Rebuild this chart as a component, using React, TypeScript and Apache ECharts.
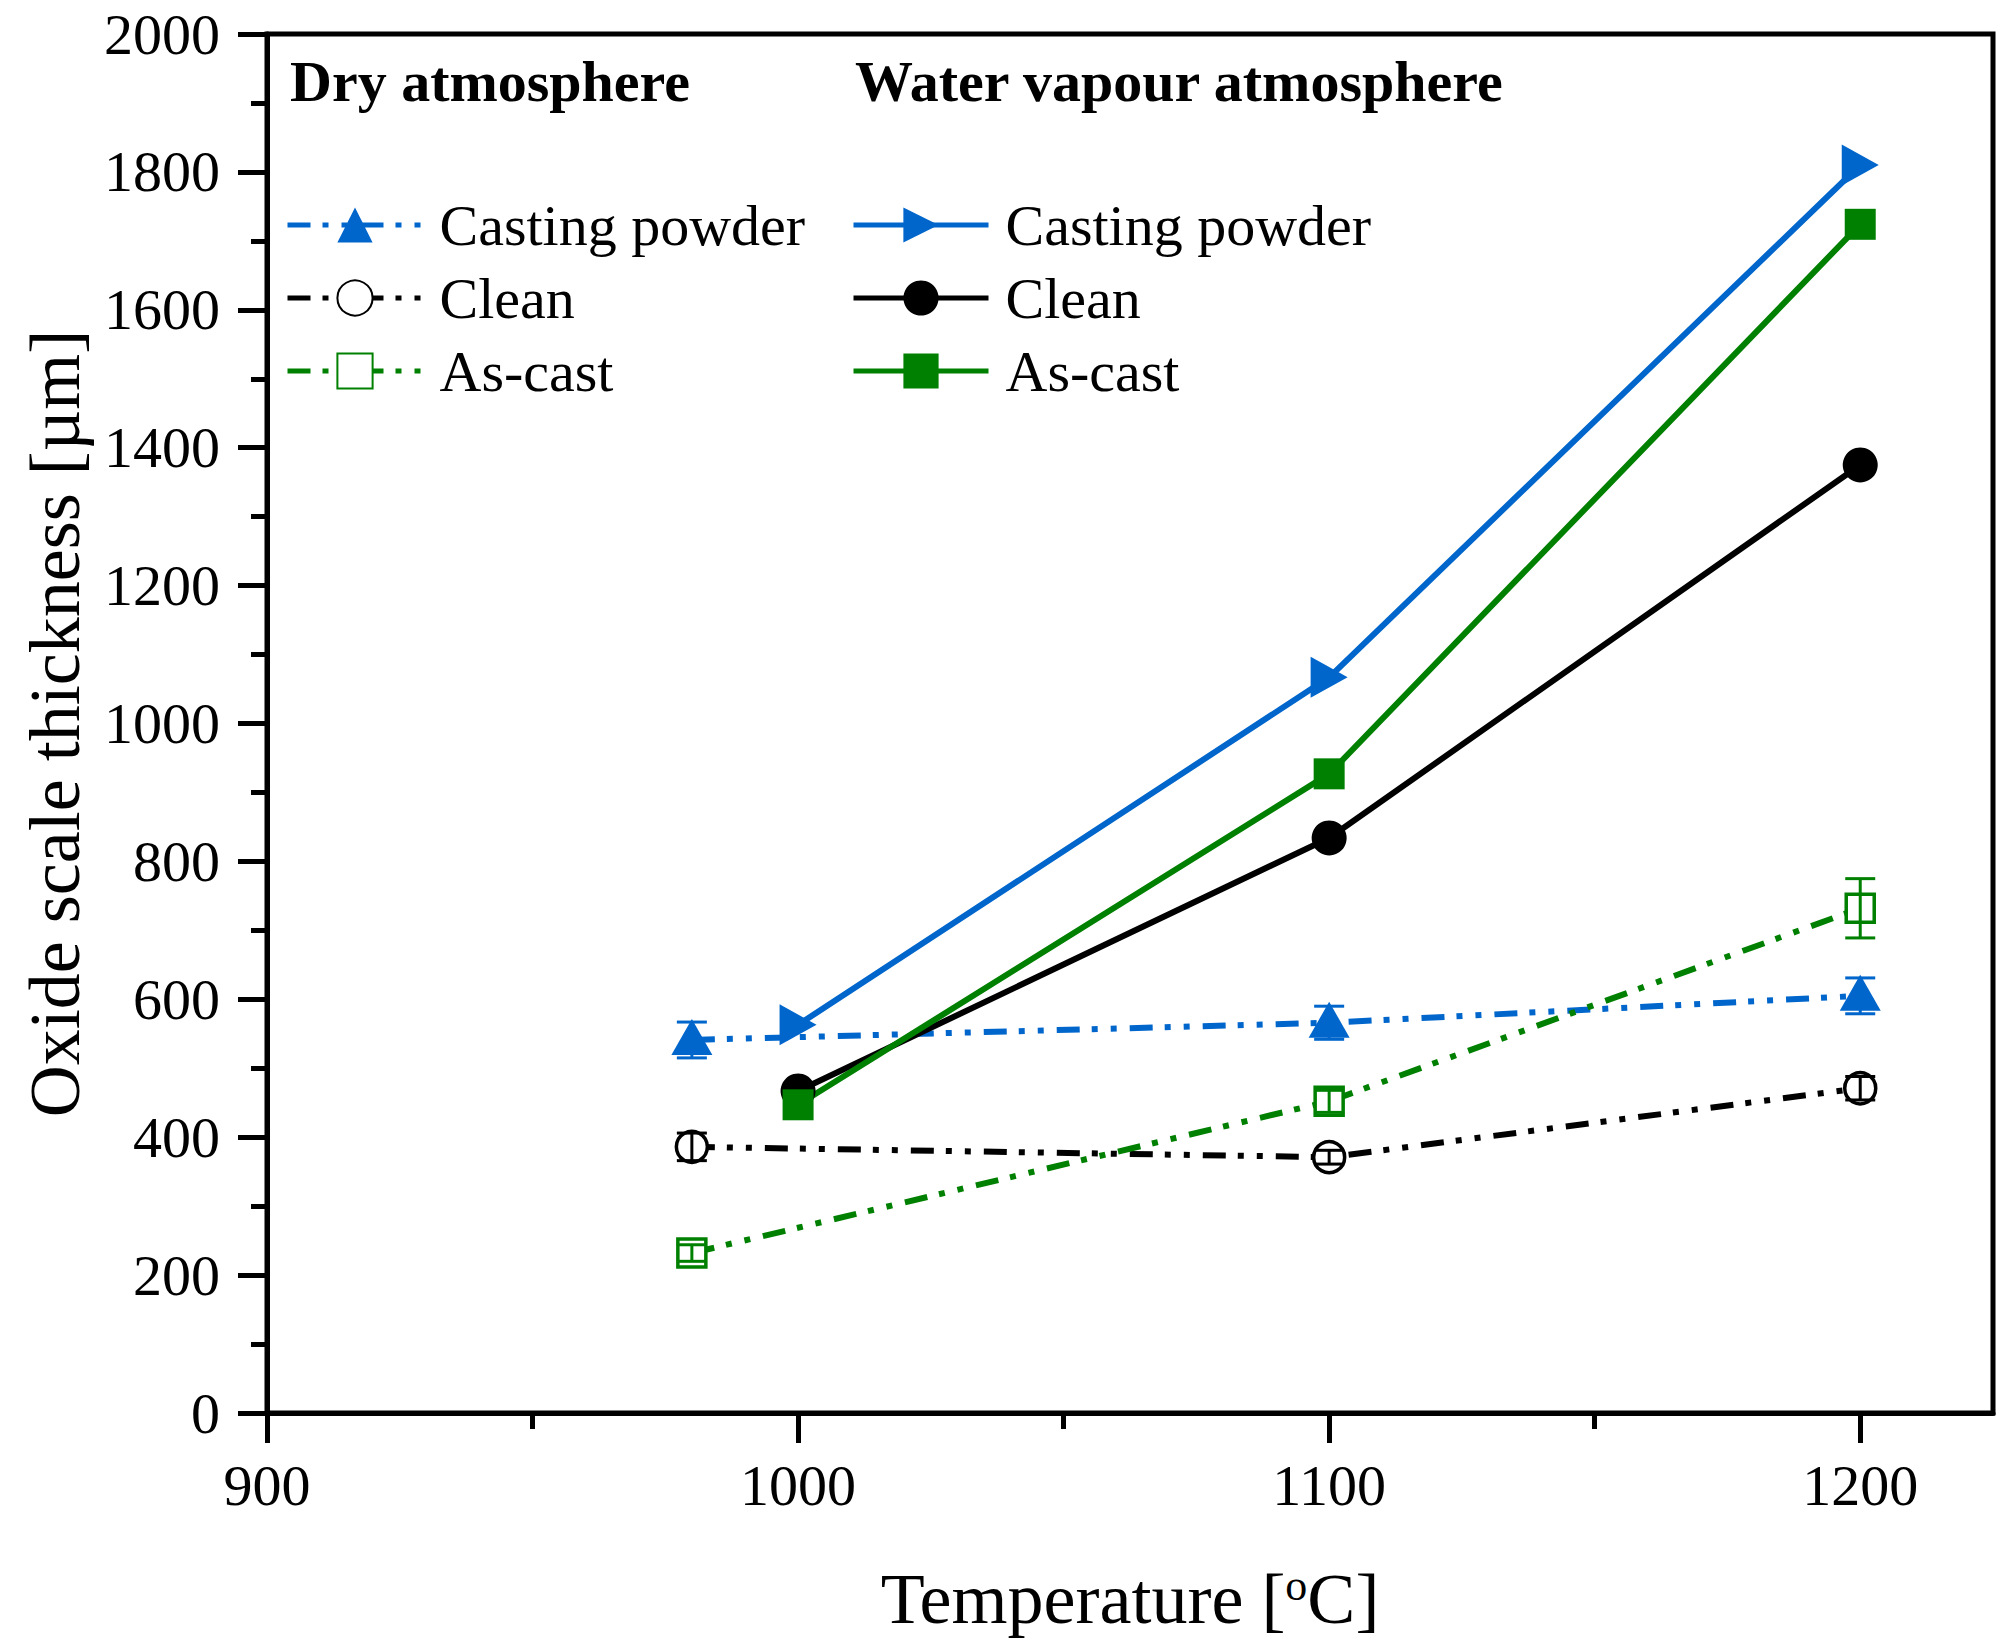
import React, { useEffect, useRef } from "react";
import * as echarts from "echarts";

const FONT = "'Liberation Serif', 'Times New Roman', serif";
const BLUE = "#0066CC";
const GREEN = "#008000";
const BLACK = "#000000";

// temperatures
const dryX = [980, 1100, 1200];
const waterX = [1000, 1100, 1200];
const xTicks = [900, 1000, 1100, 1200];
const xMinorTicks = [950, 1050, 1150];

// dry atmosphere (µm)
const dryCasting = [541, 566, 605];
const dryCastingErr = [26, 24, 26];
const dryClean = [386, 371, 471];
const dryCleanErr = [20, 10, 17];
const dryAsCast = [232, 452, 732];
const dryAsCastErr = [12, 16, 43];

// water vapour atmosphere (µm)
const waterCasting = [563, 1067, 1810];
const waterClean = [467, 834, 1375];
const waterAsCast = [447, 927, 1724];

const DASH = [23, 12, 6, 13, 6, 13];
const LW = 6;

const pts = (xs: number[], ys: number[]) => xs.map((x, i) => [x, ys[i]]);
const errPts = (xs: number[], ys: number[], es: number[]) => xs.map((x, i) => [x, ys[i], es[i]]);

function errSeries(name: string, data: number[][], color: string, z: number) {
  return {
    name,
    type: "custom",
    z,
    encode: { x: 0, y: 1 },
    data,
    renderItem: (params: any, api: any) => {
      const x = api.value(0);
      const y = api.value(1);
      const e = api.value(2);
      const hi = api.coord([x, y + e]);
      const lo = api.coord([x, y - e]);
      const hw = 15;
      const st = { stroke: color, lineWidth: 3 };
      return {
        type: "group",
        children: [
          { type: "line", shape: { x1: hi[0], y1: hi[1], x2: lo[0], y2: lo[1] }, style: st },
          { type: "line", shape: { x1: hi[0] - hw, y1: hi[1], x2: hi[0] + hw, y2: hi[1] }, style: st },
          { type: "line", shape: { x1: lo[0] - hw, y1: lo[1], x2: lo[0] + hw, y2: lo[1] }, style: st },
        ],
      };
    },
  };
}

export default function App() {
  const ref = useRef<HTMLDivElement>(null);
  useEffect(() => {
    if (!ref.current) return;
    const chart = echarts.init(ref.current, null, { renderer: "svg" });
    const legendBase = {
      orient: "vertical",
      top: 196,
      itemWidth: 135,
      itemHeight: 44,
      itemGap: 15,
      padding: 0,
      selectedMode: false,
      formatter: (n: string) => n.split(": ")[1],
      lineStyle: { width: 5 },
      textStyle: { fontSize: 58, fontFamily: FONT, color: BLACK, padding: [0, 0, 0, 12] },
    };
    chart.setOption({
      animation: false,
      backgroundColor: "#ffffff",
      grid: {
        left: 267,
        right: 18,
        top: 34,
        bottom: 234,
        show: true,
        borderColor: BLACK,
        borderWidth: 5,
        backgroundColor: "transparent",
      },
      graphic: [
        {
          type: "text",
          left: 290,
          top: 52,
          style: { text: "Dry atmosphere", fontSize: 58, fontWeight: "bold", fontFamily: FONT, fill: BLACK },
        },
        {
          type: "text",
          left: 855,
          top: 52,
          style: { text: "Water vapour atmosphere", fontSize: 58, fontWeight: "bold", fontFamily: FONT, fill: BLACK },
        },
      ],
      legend: [
        { ...legendBase, left: 285, data: ["Dry: Casting powder", "Dry: Clean", "Dry: As-cast"] },
        { ...legendBase, left: 851, data: ["Water: Casting powder", "Water: Clean", "Water: As-cast"] },
      ],
      xAxis: [
        {
          type: "value",
          min: 900,
          max: 1225,
          interval: 100,
          position: "bottom",
          name: "Temperature [{s|o}C]",
          nameLocation: "middle",
          nameGap: 150,
          nameTextStyle: {
            fontSize: 72,
            fontFamily: FONT,
            color: BLACK,
            rich: { s: { fontSize: 44, fontFamily: FONT, color: BLACK, verticalAlign: "top", padding: [0, 0, 24, 0] } },
          },
          axisLine: { show: true, onZero: false, lineStyle: { color: BLACK, width: 5 } },
          axisTick: { show: true, length: 30, customValues: xTicks, lineStyle: { color: BLACK, width: 5 } },
          axisLabel: {
            fontSize: 58,
            fontFamily: FONT,
            color: BLACK,
            margin: 43,
            customValues: xTicks,
            formatter: (v: number) => String(v),
          },
          splitLine: { show: false },
        },
        {
          type: "value",
          min: 900,
          max: 1225,
          interval: 50,
          position: "bottom",
          axisLine: { show: false, onZero: false },
          axisTick: { show: true, length: 16, customValues: xMinorTicks, lineStyle: { color: BLACK, width: 5 } },
          axisLabel: { show: false },
          splitLine: { show: false },
        },
      ],
      yAxis: {
        type: "value",
        min: 0,
        max: 2000,
        interval: 200,
        name: "Oxide scale thickness [µm]",
        nameLocation: "middle",
        nameGap: 176,
        nameTextStyle: { fontSize: 72, fontFamily: FONT, color: BLACK },
        axisLine: { show: true, onZero: false, lineStyle: { color: BLACK, width: 5 } },
        axisTick: { show: true, length: 29, lineStyle: { color: BLACK, width: 5 } },
        minorTick: { show: true, splitNumber: 2, length: 16, lineStyle: { color: BLACK, width: 5 } },
        axisLabel: {
          fontSize: 58,
          fontFamily: FONT,
          color: BLACK,
          margin: 47,
          formatter: (v: number) => String(v),
        },
        splitLine: { show: false },
        minorSplitLine: { show: false },
      },
      series: [
        {
          name: "Water: Casting powder",
          type: "line",
          data: pts(waterX, waterCasting),
          symbol: "triangle",
          symbolRotate: -90,
          symbolSize: [41, 37],
          lineStyle: { color: BLUE, width: LW },
          itemStyle: { color: BLUE },
          z: 3,
        },
        {
          name: "Water: Clean",
          type: "line",
          data: pts(waterX, waterClean),
          symbol: "circle",
          symbolSize: 35,
          lineStyle: { color: BLACK, width: LW },
          itemStyle: { color: BLACK },
          z: 3,
        },
        {
          name: "Water: As-cast",
          type: "line",
          data: pts(waterX, waterAsCast),
          symbol: "rect",
          symbolSize: 31,
          lineStyle: { color: GREEN, width: LW },
          itemStyle: { color: GREEN },
          z: 3,
        },
        {
          name: "Dry: Casting powder",
          type: "line",
          data: pts(dryX, dryCasting),
          symbol: "triangle",
          symbolSize: [41, 36],
          symbolOffset: [0, -3],
          lineStyle: { color: BLUE, width: LW, type: DASH },
          itemStyle: { color: BLUE },
          z: 2,
        },
        {
          name: "Dry: Clean",
          type: "line",
          data: pts(dryX, dryClean),
          symbol: "circle",
          symbolSize: 31,
          lineStyle: { color: BLACK, width: LW, type: DASH },
          itemStyle: { color: "#ffffff", borderColor: BLACK, borderWidth: 3.5 },
          z: 2,
        },
        {
          name: "Dry: As-cast",
          type: "line",
          data: pts(dryX, dryAsCast),
          symbol: "rect",
          symbolSize: 28,
          lineStyle: { color: GREEN, width: LW, type: DASH },
          itemStyle: { color: "#ffffff", borderColor: GREEN, borderWidth: 3.5 },
          z: 2,
        },
        errSeries("err-casting", errPts(dryX, dryCasting, dryCastingErr), BLUE, 1),
        errSeries("err-clean", errPts(dryX, dryClean, dryCleanErr), BLACK, 5),
        errSeries("err-ascast", errPts(dryX, dryAsCast, dryAsCastErr), GREEN, 5),
      ],
    });
    return () => chart.dispose();
  }, []);
  return (
    <div
      ref={ref}
      style={{ position: "fixed", left: 0, top: 0, width: 2011, height: 1647, background: "#fff" }}
    />
  );
}
